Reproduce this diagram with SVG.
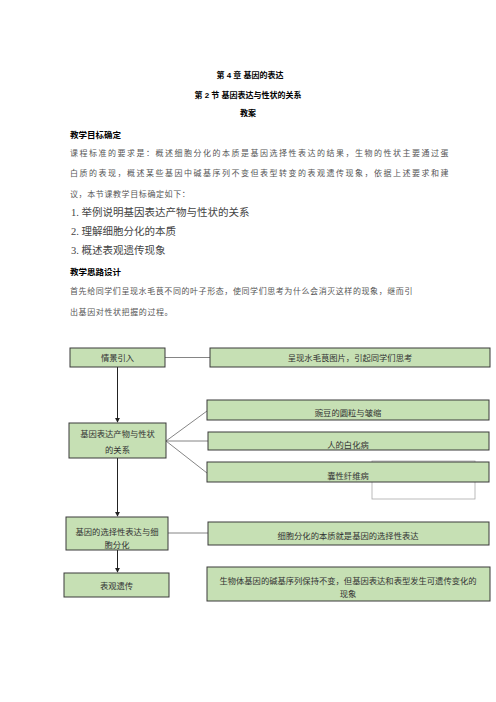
<svg xmlns="http://www.w3.org/2000/svg" width="496" height="702" viewBox="0 0 496 702">
<style>
text{font-family:"Liberation Serif","Noto Sans CJK SC",serif;}
.h{font-family:"Liberation Sans","Noto Sans CJK SC",sans-serif;font-weight:bold;font-size:8px;fill:#000;}
.p{font-size:8px;fill:#555;letter-spacing:0.6px;}
.n{font-size:10.5px;fill:#444;}
.box{fill:#c6e0b4;stroke:#3a3a3a;stroke-width:1;}
.bt{font-size:8.3px;fill:#333;text-anchor:middle;}
.ln{stroke:#666;stroke-width:0.8;fill:none;}
.ar{stroke:#222;stroke-width:1;fill:none;}
</style>
<defs>
<marker id="ah" viewBox="0 0 6 6" refX="5" refY="3" markerWidth="5" markerHeight="5" orient="auto">
<path d="M0,0 L6,3 L0,6 Z" fill="#222"/>
</marker>
</defs>
<rect width="496" height="702" fill="#fff"/>

<g id="text">
<text class="h" x="250" y="78" text-anchor="middle">第 4 章 基因的表达</text>
<text class="h" x="248" y="98" text-anchor="middle">第 2 节 基因表达与性状的关系</text>
<text class="h" x="248" y="116" text-anchor="middle">教案</text>
<text class="h" x="70" y="138" style="font-size:8.5px">教学目标确定</text>
<text class="p" x="70" y="156" textLength="379" lengthAdjust="spacing">课程标准的要求是：概述细胞分化的本质是基因选择性表达的结果，生物的性状主要通过蛋</text>
<text class="p" x="70" y="176" textLength="379" lengthAdjust="spacing">白质的表现，概述某些基因中碱基序列不变但表型转变的表观遗传现象，依据上述要求和建</text>
<text class="p" x="70" y="197">议，本节课教学目标确定如下：</text>
<text class="n" x="71" y="216">1. 举例说明基因表达产物与性状的关系</text>
<text class="n" x="71" y="235">2. 理解细胞分化的本质</text>
<text class="n" x="71" y="254">3. 概述表观遗传现象</text>
<text class="h" x="70" y="275" style="font-size:8.5px">教学思路设计</text>
<text class="p" x="70" y="294" textLength="343" lengthAdjust="spacing">首先给同学们呈现水毛茛不同的叶子形态，使同学们思考为什么会消灭这样的现象，继而引</text>
<text class="p" x="70" y="315">出基因对性状把握的过程。</text>
</g>

<g id="connectors">
<line class="ln" x1="165" y1="357.5" x2="210" y2="357.5"/>
<line class="ln" x1="166" y1="441" x2="207" y2="411"/>
<line class="ln" x1="166" y1="441" x2="208" y2="441"/>
<line class="ln" x1="166" y1="441" x2="207" y2="473"/>
<line class="ln" x1="168" y1="533" x2="208" y2="533"/>
<line class="ar" x1="117.5" y1="367" x2="117.5" y2="422" marker-end="url(#ah)"/>
<line class="ar" x1="117.5" y1="458" x2="117.5" y2="516" marker-end="url(#ah)"/>
<line class="ar" x1="117.5" y1="550" x2="117.5" y2="572" marker-end="url(#ah)"/>
</g>

<g id="n1"><rect class="box" x="70" y="348" width="95" height="19"/><text class="bt" x="117.5" y="361">情景引入</text></g>
<g id="n2"><rect class="box" x="210" y="348" width="280" height="19"/><text class="bt" x="350" y="361">呈现水毛茛图片，引起同学们思考</text></g>
<g id="n3"><rect class="box" x="69" y="423" width="97" height="35"/><text class="bt" x="117.5" y="437">基因表达产物与性状</text><text class="bt" x="117.5" y="453">的关系</text></g>
<g id="n4"><rect class="box" x="207" y="400" width="282" height="20"/><text class="bt" x="348" y="416">豌豆的圆粒与皱缩</text></g>
<g id="n5"><rect class="box" x="208" y="432" width="281" height="18"/><text class="bt" x="348" y="448">人的白化病</text></g>
<g id="n6"><rect x="372" y="461" width="103" height="38" fill="#fff" stroke="#aaa" stroke-width="0.8"/><rect class="box" x="207" y="462" width="282" height="20"/><text class="bt" x="348" y="479">囊性纤维病</text></g>
<g id="n7"><rect class="box" x="66" y="517" width="102" height="33"/><text class="bt" x="117" y="535">基因的选择性表达与细</text><text class="bt" x="117" y="548">胞分化</text></g>
<g id="n8"><rect class="box" x="208" y="522" width="281" height="23"/><text class="bt" x="348" y="539">细胞分化的本质就是基因的选择性表达</text></g>
<g id="n9"><rect class="box" x="64" y="573" width="105" height="24"/><text class="bt" x="116.5" y="589">表观遗传</text></g>
<g id="n10"><rect class="box" x="207" y="567" width="283" height="34"/><text class="bt" x="348" y="584">生物体基因的碱基序列保持不变，但基因表达和表型发生可遗传变化的</text><text class="bt" x="348" y="597">现象</text></g>
</svg>
